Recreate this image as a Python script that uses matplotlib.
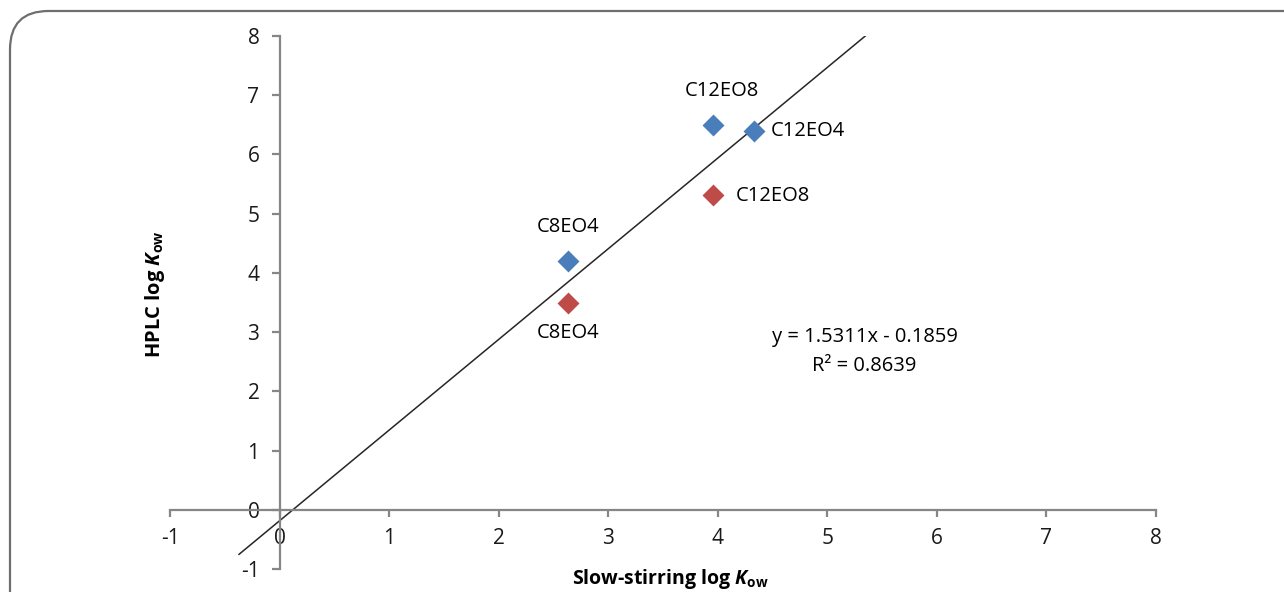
import matplotlib
matplotlib.use("Agg")
import matplotlib.pyplot as plt
from matplotlib.patches import FancyBboxPatch
import numpy as np

plt.rcParams['font.family'] = ['Open Sans', 'DejaVu Sans']
plt.rcParams['mathtext.fontset'] = 'custom'
plt.rcParams['mathtext.rm'] = 'Open Sans'
plt.rcParams['mathtext.it'] = 'Open Sans:italic'
plt.rcParams['mathtext.bf'] = 'Open Sans:bold'
plt.rcParams['mathtext.bfit'] = 'Open Sans:italic:bold'

# Data
blue_names = ["C8EO4", "C12EO8", "C12EO4"]
blue_x = [2.63, 3.96, 4.33]
blue_y = [4.20, 6.50, 6.40]
red_names = ["C8EO4", "C12EO8"]
red_x = [2.63, 3.96]
red_y = [3.50, 5.32]
slope = 1.5311
intercept = -0.1859
r2 = 0.8639
line_x = [-0.37, (8 - intercept) / slope]
x_ticks = [-1, 0, 1, 2, 3, 4, 5, 6, 7, 8]
y_ticks = [-1, 0, 1, 2, 3, 4, 5, 6, 7, 8]

W, H = 1284, 592
fig = plt.figure(figsize=(W / 100, H / 100), dpi=100)

# rounded border
border = FancyBboxPatch((10 / W, -60 / H), (1360 - 10) / W, (581 + 60) / H,
                        boxstyle="round,pad=0,rounding_size=0.03",
                        transform=fig.transFigure, fill=False,
                        edgecolor='#6e6e6e', linewidth=1.6,
                        mutation_aspect=W / H)
fig.patches.append(border)

ax = fig.add_axes([170 / W, 1 - 569 / H, (1156 - 170) / W, (569 - 36) / H])
ax.set_xlim(-1, 8)
ax.set_ylim(-1, 8)

axis_col = '#868686'
for s in ['top', 'right']:
    ax.spines[s].set_visible(False)
ax.spines['left'].set_position(('data', 0))
ax.spines['bottom'].set_position(('data', 0))
for s in ['left', 'bottom']:
    ax.spines[s].set_color(axis_col)
    ax.spines[s].set_linewidth(1.6)

ax.set_xticks(x_ticks)
ax.set_yticks(y_ticks)
ax.set_xticklabels([str(v) for v in x_ticks])
ax.set_yticklabels([str(v) for v in y_ticks])
ax.tick_params(axis='x', direction='out', length=5, width=1.6, color=axis_col,
               labelsize=15, pad=8, labelcolor='#1a1a1a')
ax.tick_params(axis='y', direction='out', length=5.5, width=1.6, color=axis_col,
               labelsize=15, pad=9, labelcolor='#1a1a1a')

# regression line
lx = np.array(line_x)
ax.plot(lx, slope * lx + intercept, color='#262626', linewidth=1.1, zorder=2)

# points
ax.scatter(blue_x, blue_y, marker='D', s=125, color='#4a7ebb', zorder=3, linewidths=0)
ax.scatter(red_x, red_y, marker='D', s=125, color='#be4b48', zorder=3, linewidths=0)

fs = 14.5
# blue labels
ax.text(blue_x[0], blue_y[0] + 0.58, blue_names[0], ha='center', va='center', fontsize=fs)
ax.text(blue_x[1] + 0.08, blue_y[1] + 0.57, blue_names[1], ha='center', va='center', fontsize=fs)
ax.text(blue_x[2] + 0.15, blue_y[2], blue_names[2], ha='left', va='center', fontsize=fs)
# red labels
ax.text(red_x[0], red_y[0] - 0.52, red_names[0], ha='center', va='center', fontsize=fs)
ax.text(red_x[1] + 0.2, red_y[1] - 0.03, red_names[1], ha='left', va='center', fontsize=fs)

# equation
ax.text(5.34, 2.92, "y = %.4fx - %.4f" % (slope, -intercept), ha='center', va='center', fontsize=fs)
ax.text(5.34, 2.43, "R² = %.4f" % r2, ha='center', va='center', fontsize=fs)

# axis labels
fig.text(670 / W, 1 - 579 / H, r'Slow-stirring log $\mathbfit{K}_{\mathbf{ow}}$',
         ha='center', va='center', fontsize=14, fontweight='bold')
fig.text(155 / W, 1 - 294 / H, r'HPLC log $\mathbfit{K}_{\mathbf{ow}}$',
         ha='center', va='center', fontsize=14.5, fontweight='bold', rotation=90)

fig.savefig('out.png', dpi=100)
